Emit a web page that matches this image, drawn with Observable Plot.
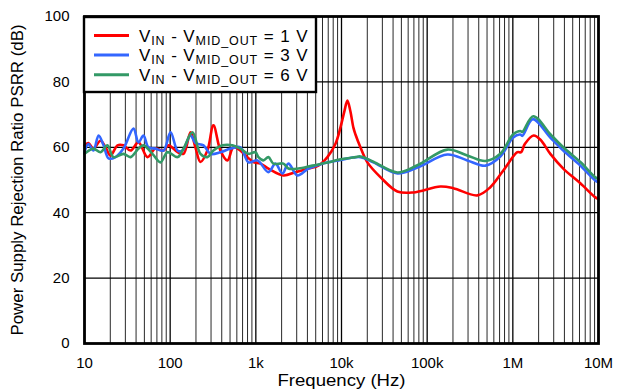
<!DOCTYPE html>
<html>
<head>
<meta charset="utf-8">
<script src="https://cdn.jsdelivr.net/npm/d3@7"></script>
<script src="https://cdn.jsdelivr.net/npm/@observablehq/plot@0.6"></script>
<style>
  html, body { margin: 0; padding: 0; background: #fff; }
  svg { display: block; }
</style>
</head>
<body>
<div id="chart"></div>
<script>
// ---- data ----
const seriesNames = ["VIN - VMID_OUT = 1 V", "VIN - VMID_OUT = 3 V", "VIN - VMID_OUT = 6 V"];
const seriesColors = ["#ff0000", "#3366ff", "#339966"];
const legendSupplies = ["1", "3", "6"];

const redFreq = [10, 11.1, 12.7, 15.4, 17.6, 20.1, 24.3, 28.5, 34.4, 42.7, 54.3, 67.3, 83.5, 95.5, 122, 143, 173, 197, 226, 272, 320, 386, 466, 548, 661, 798, 938, 1132, 1403, 2099, 2897, 4107, 5375, 6843, 8485, 9710, 10800, 11720, 12700, 13770, 14530, 16630, 20060, 28430, 44900, 69000, 142600, 202000, 385000, 546000, 774000, 1130000, 1250000, 1380000, 1750000, 2100000, 2740000, 3880000, 6140000, 9190000, 10000000];
const redDb = [60.5, 61.3, 59.6, 62, 60, 57.5, 60.6, 60.6, 59, 61.5, 57, 59.6, 59, 60.6, 58.5, 58, 64.6, 60, 55.5, 59, 66.7, 59, 56, 60, 59, 57, 55.5, 55, 53.5, 51.4, 52.4, 53.5, 54.4, 57, 61, 66, 71, 74.3, 71, 66, 64, 60, 55.4, 50.9, 46.5, 46.2, 48, 47.5, 45.3, 47.8, 52.9, 58.5, 58.5, 61, 63.6, 62.3, 58, 53.5, 49, 44.7, 44.2];

const blueFreq = [10, 11.1, 12.7, 14.6, 16.7, 19.1, 23, 28.5, 37.3, 42.7, 48.8, 55.8, 67.3, 83.5, 101, 122, 139, 173, 197, 245, 295, 386, 505, 661, 820, 1045, 1403, 1693, 2044, 2400, 3055, 4107, 5980, 9200, 16630, 23550, 44900, 76900, 172000, 294000, 478000, 714000, 1010000, 1220000, 1290000, 1710000, 2740000, 3880000, 6140000, 9190000, 10000000];
const blueDb = [58.5, 61, 59, 63.6, 60.6, 56.6, 57, 59.6, 65.7, 61.5, 63.6, 60, 59.6, 59, 64.6, 59, 59, 63.6, 61.3, 60.6, 58, 58.5, 59.6, 60, 55.4, 56, 52.4, 55, 52, 55, 51.4, 53.5, 55, 56, 57, 55.4, 52, 53.8, 57.8, 56, 54.4, 57.2, 63, 63.9, 63.5, 68.6, 63, 59, 54.4, 49.8, 49.3];

const greenFreq = [10, 12.7, 15.4, 18.5, 21.8, 28.5, 34.4, 42.7, 48.8, 62.1, 77.1, 93, 122, 143, 182, 226, 272, 320, 408, 533, 661, 820, 989, 1072, 1227, 1403, 1604, 2099, 2400, 3140, 4573, 7030, 9200, 14530, 16630, 23550, 44900, 76900, 172000, 294000, 478000, 714000, 1010000, 1220000, 1290000, 1730000, 2740000, 3880000, 6140000, 9190000, 10000000];
const greenDb = [58, 59.6, 58.5, 60.6, 57, 58, 57, 59.6, 60.6, 58, 55.4, 58.5, 57, 59.6, 64.6, 58, 57, 59, 60.6, 60.6, 59.6, 58, 58.5, 57, 56, 57, 55, 55, 53.5, 53.5, 54.4, 55.4, 56.2, 57, 57.2, 55.6, 52.3, 54.5, 59.3, 57.5, 55.8, 58, 64, 65, 64.7, 69.5, 64, 60, 55.5, 50.8, 50.3];

const xTickValues = [10, 100, 1000, 10000, 100000, 1000000, 10000000];
const xTickLabels = ["10", "100", "1k", "10k", "100k", "1M", "10M"];
const yTickValues = [0, 20, 40, 60, 80, 100];
const yGridValues = [20, 40, 60, 80];
const minorMultipliers = [2, 3, 4, 5, 6, 7, 8, 9];

// ---- build tables ----
const toRows = (freqs, dbs, name) => freqs.map((f, i) => ({f, db: dbs[i], name}));
const rows = [
  ...toRows(redFreq, redDb, seriesNames[0]),
  ...toRows(blueFreq, blueDb, seriesNames[1]),
  ...toRows(greenFreq, greenDb, seriesNames[2])
];
const minorTicks = [];
for (let d = 10; d < 1e7; d *= 10) for (const m of minorMultipliers) minorTicks.push(d * m);

const font = "'Liberation Sans', Arial, Helvetica, sans-serif";

const svg = Plot.plot({
  width: 626,
  height: 392,
  marginLeft: 84,
  marginRight: 28,
  marginTop: 16,
  marginBottom: 49,
  style: {fontFamily: font, fontSize: "15px", color: "#000", background: "#fff"},
  x: {type: "log", domain: [10, 1e7]},
  y: {domain: [0, 100]},
  color: {domain: seriesNames, range: seriesColors},
  marks: [
    Plot.ruleX(minorTicks, {stroke: "#111", strokeWidth: 1, strokeOpacity: 0.9}),
    Plot.ruleX(xTickValues, {stroke: "#000", strokeWidth: 1.3}),
    Plot.ruleY(yGridValues, {stroke: "#000", strokeWidth: 1.2}),
    Plot.axisX({
      ticks: xTickValues,
      tickFormat: (d) => xTickLabels[xTickValues.indexOf(d)],
      tickSize: 0,
      tickPadding: 14,
      label: "Frequency (Hz)",
      labelAnchor: "center",
      labelArrow: "none",
      labelOffset: 42
    }),
    Plot.axisY({
      ticks: yTickValues,
      tickSize: 0,
      tickPadding: 15,
      label: "Power Supply Rejection Ratio PSRR (dB)",
      labelAnchor: "center",
      labelArrow: "none",
      labelOffset: 73
    }),
    Plot.line(rows, {x: "f", y: "db", z: "name", stroke: "name", strokeWidth: 2.6, curve: "catmull-rom"}),
    Plot.frame({stroke: "#000", strokeWidth: 2.8})
  ]
});

// axis label sizing (to match the reference's wide lettering)
d3.select(svg).selectAll("g[aria-label='x-axis label'] text")
  .style("font-size", "16px").attr("textLength", 128).attr("lengthAdjust", "spacingAndGlyphs");
d3.select(svg).selectAll("g[aria-label='y-axis label'] text")
  .style("font-size", "16px").attr("textLength", 311).attr("lengthAdjust", "spacingAndGlyphs");
d3.select(svg).selectAll("g[aria-label='x-axis tick label'] text, g[aria-label='y-axis tick label'] text")
  .style("font-size", "15px");

// ---- legend inside plot area (top-left) ----
const g = d3.select(svg).append("g").attr("class", "legend").attr("text-anchor", "start");
g.append("rect").attr("x", 84).attr("y", 17).attr("width", 232).attr("height", 75)
  .attr("fill", "#fff").attr("stroke", "#000").attr("stroke-width", 2.4);
seriesNames.forEach((name, i) => {
  const cy = 35.5 + i * 19.6;
  g.append("line").attr("x1", 94).attr("x2", 129).attr("y1", cy).attr("y2", cy)
    .attr("stroke", seriesColors[i]).attr("stroke-width", 3);
  const t = g.append("text").attr("x", 139).attr("y", cy + 6)
    .attr("text-anchor", "start")
    .attr("font-family", font).attr("font-size", 17).attr("fill", "#000")
    .attr("letter-spacing", 0.9);
  t.append("tspan").text("V");
  t.append("tspan").attr("font-size", 12.5).attr("dy", 3).text("IN");
  t.append("tspan").attr("dy", -3).text(" - V");
  t.append("tspan").attr("font-size", 12.5).attr("dy", 3).text("MID_OUT");
  t.append("tspan").attr("dy", -3).text(" = " + legendSupplies[i] + " V");
});

document.getElementById("chart").appendChild(svg);
</script>
</body>
</html>
